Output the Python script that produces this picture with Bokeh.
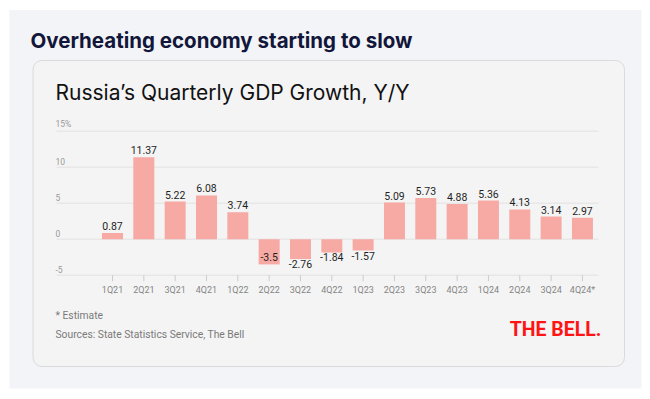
from bokeh.plotting import figure
from bokeh.models import Range1d, ColumnDataSource
from bokeh.core.properties import value
from bokeh.embed import file_html
from bokeh.resources import INLINE

# ---- data ----
quarters = ["1Q21", "2Q21", "3Q21", "4Q21", "1Q22", "2Q22", "3Q22", "4Q22",
            "1Q23", "2Q23", "3Q23", "4Q23", "1Q24", "2Q24", "3Q24", "4Q24*"]
growth = [0.87, 11.37, 5.22, 6.08, 3.74, -3.5, -2.76, -1.84,
          -1.57, 5.09, 5.73, 4.88, 5.36, 4.13, 3.14, 2.97]
y_ticks = [15, 10, 5, 0, -5]
y_tick_labels = ["15%", "10", "5", "0", "-5"]

title = "Overheating economy starting to slow"
chart_title = "Russia\u2019s Quarterly GDP Growth, Y/Y"
note = "* Estimate"
source_note = "Sources: State Statistics Service, The Bell"
logo = "THE BELL."

# ---- layout helpers (page pixels -> data coordinates) ----
W, H = 642, 391
M = 0
X0, STEP = 112.0, 31.33   # page x of first category, category step
Y0, UNIT = 238.7, 7.2     # page y of zero, pixels per percentage point


def dx(px):
    return (px - X0) / STEP


def dy(py):
    return (Y0 - py) / UNIT


idx = list(range(len(quarters)))

p = figure(width=W, height=H,
           x_range=Range1d(dx(M), dx(M + W)),
           y_range=Range1d(dy(M + H), dy(M)),
           x_axis_type=None, y_axis_type=None,
           toolbar_location=None, output_backend="svg",
           min_border=0, outline_line_color=None,
           background_fill_color="white", border_fill_color="white")

# backgrounds
p.quad(left=dx(9), right=dx(641), top=dy(9.5), bottom=dy(388),
       fill_color="#f2f4f7", line_color=None)
p.quad(left=dx(32.5), right=dx(624), top=dy(60), bottom=dy(366),
       fill_color="#f4f4f4", line_color="#dadada", line_width=1, border_radius=9)

# titles
p.text(x=[dx(30)], y=[dy(40)], text=[title], text_font=value("Inter"),
       text_font_style="bold", text_font_size=value("20.5px"), text_color="#12163a",
       text_baseline="middle", text_align="left")
p.text(x=[dx(55)], y=[dy(92)], text=[chart_title], text_font=value("Inter"),
       text_font_size=value("21px"), text_color="#111111",
       text_baseline="middle", text_align="left")

# grid lines and y labels
p.segment(x0=[dx(56)] * len(y_ticks), x1=[dx(598)] * len(y_ticks),
          y0=y_ticks, y1=y_ticks, line_color="#e1e1e1", line_width=1)
p.text(x=[dx(55)] * len(y_ticks), y=y_ticks, text=y_tick_labels,
       text_font=value("Roboto"), text_font_size=value("8.5px"), text_color="#9a9a9a",
       text_baseline="bottom", text_align="left", y_offset=-2)

# x ticks and labels
p.segment(x0=idx, x1=idx, y0=[-5] * len(idx), y1=[dy(280.7)] * len(idx),
          line_color="#cccccc", line_width=1)
p.text(x=idx, y=[dy(289)] * len(idx), text=quarters,
       text_font=value("Roboto"), text_font_size=value("9px"), text_color="#858585",
       text_baseline="middle", text_align="center")

# bars
p.vbar(x=idx, top=growth, bottom=0, width=0.67, fill_color="#f7a9a4", line_color=None)

# value labels
pos = ColumnDataSource(dict(
    x=[i for i, v in zip(idx, growth) if v >= 0],
    y=[v for v in growth if v >= 0],
    t=[str(v) for v in growth if v >= 0]))
neg_out = ColumnDataSource(dict(
    x=[i for i, v in zip(idx, growth) if -3 <= v < 0],
    y=[v for v in growth if -3 <= v < 0],
    t=[str(v) for v in growth if -3 <= v < 0]))
neg_in = ColumnDataSource(dict(
    x=[i for i, v in zip(idx, growth) if v < -3],
    y=[v for v in growth if v < -3],
    t=[str(v) for v in growth if v < -3]))
for src, base, off in ((pos, "bottom", -3), (neg_out, "top", 1), (neg_in, "bottom", -3)):
    p.text(x="x", y="y", text="t", source=src, text_font=value("Roboto"),
           text_font_size=value("10.5px"), text_color="#1f1f1f",
           text_baseline=base, text_align="center", y_offset=off)

# footnotes
p.text(x=[dx(55), dx(55)], y=[dy(315), dy(333.5)], text=[note, source_note],
       text_font=value("Roboto"), text_font_size=value("10.3px"), text_color="#7a7a7a",
       text_baseline="middle", text_align="left")

# logo
p.text(x=[dx(601)], y=[dy(328.5)], text=[logo], text_font=value("Roboto"),
       text_font_style="bold", text_font_size=value("19.5px"), text_color="#ff1414",
       text_baseline="middle", text_align="right")

open("out.html", "w").write(file_html(p, INLINE))
